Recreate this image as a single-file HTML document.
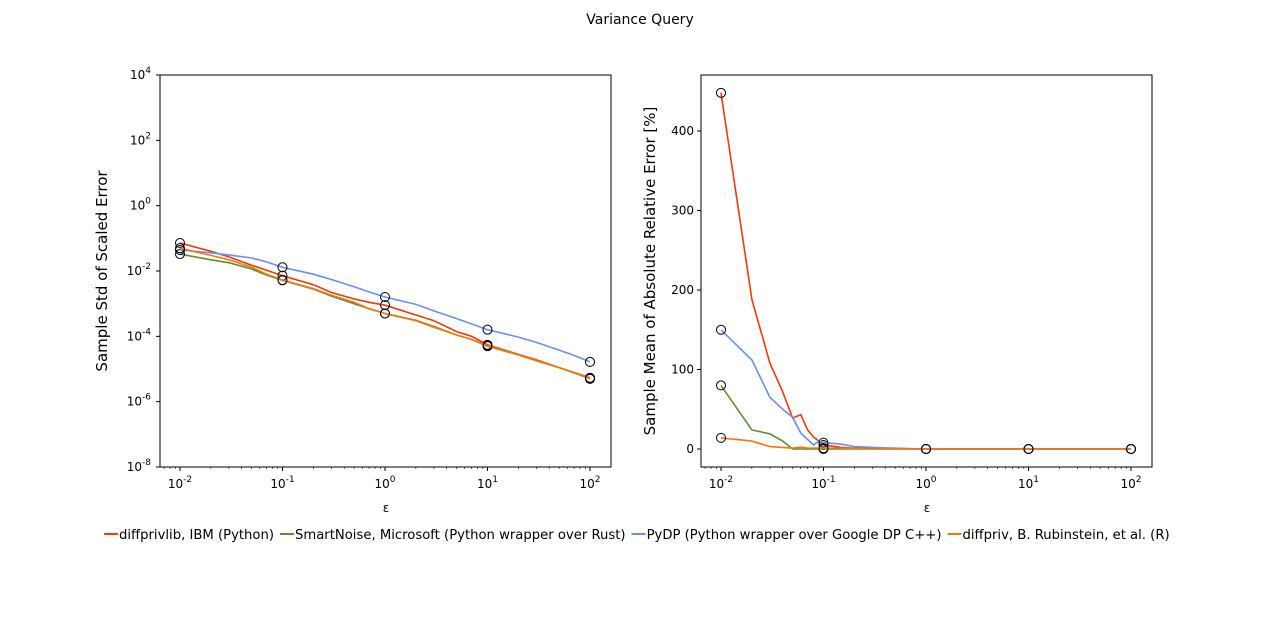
<!DOCTYPE html>
<html><head><meta charset="utf-8"><style>
body{margin:0;background:#fff;font-family:"DejaVu Sans","Liberation Sans",sans-serif;}
svg text{font-family:"DejaVu Sans","Liberation Sans",sans-serif;}
</style></head><body>
<svg id="fig" width="1280" height="623" xmlns="http://www.w3.org/2000/svg">
<rect width="1280" height="623" fill="#fff"/>
<text x="640" y="24" text-anchor="middle" font-size="14">Variance Query</text>
<g id="g"></g>
</svg>
<script>
const eps = [0.01,0.02,0.03,0.05,0.07,0.1,0.2,0.3,0.5,0.7,1,2,3,5,7,10,20,30,50,70,100];
const stdRed   = [0.072,0.04,0.027,0.015,0.0105,0.0072,0.0038,0.0022,0.0014,0.0011,0.0009,0.00045,0.0003,0.00014,0.0001,0.000055,0.000028,0.000019,0.000011,0.0000078,0.0000054];
const stdBlue  = [0.044,0.036,0.031,0.025,0.019,0.013,0.008,0.0055,0.0033,0.0023,0.0016,0.00095,0.0006,0.00035,0.00024,0.00016,0.000095,0.000065,0.000038,0.000026,0.0000165];
const stdGreen = [0.033,0.022,0.018,0.0115,0.0075,0.0052,0.0028,0.0017,0.001,0.0007,0.0005,0.00031,0.0002,0.00011,0.00008,0.00005,0.000027,0.000018,0.000011,0.0000076,0.000005];
const stdOrange= [0.05,0.03,0.022,0.013,0.008,0.0053,0.0029,0.0018,0.0011,0.0007,0.0005,0.0003,0.00019,0.00011,0.00008,0.000052,0.000027,0.000018,0.000011,0.0000076,0.0000052];
const errEps   = [0.01,0.02,0.03,0.04,0.05,0.06,0.07,0.08,0.09,0.1,0.15,0.2,0.3,0.5,1,10,100];
const errRed   = [448,188,108,72,39,43,24,15,10,5,2,1,1,0.5,0,0,0];
const errBlue  = [150,112,65,50,40,20,12,5,10,8,6,3,2,1,0,0,0];
const errGreen = [80,24,19,10,0,0,0,0,0,0,0,0,0,0,0,0,0];
const errOrange= [14,10,3,2,1,2.5,1,1,1,1,1,0.5,0,0,0,0,0];
const markEps = [0.01,0.1,1,10,100];
const names = ["diffprivlib, IBM (Python)","SmartNoise, Microsoft (Python wrapper over Rust)","PyDP (Python wrapper over Google DP C++)","diffpriv, B. Rubinstein, et al. (R)"];
const colors = ["#f03a0a","#5f8c3a","#6a8ff0","#ec7b0e"];
const yTicksL = [-8,-6,-4,-2,0,2,4];
const yTicksR = [0,100,200,300,400];
const xTicks = [-2,-1,0,1,2];

const NS="http://www.w3.org/2000/svg", G=document.getElementById('g');
function el(t,a,p){const e=document.createElementNS(NS,t);for(const k in a)e.setAttribute(k,a[k]);(p||G).appendChild(e);return e;}
function txt(x,y,s,a){const e=el('text',Object.assign({x:x,y:y,'font-size':12},a||{}));e.textContent=s;return e;}

function xl(L,v){return L+20+(Math.log10(v)+2)*102.5;}
const sxL=v=>xl(160,v), sxR=v=>xl(701,v);
const syL=v=>467-(Math.log10(v)+8)*(392/12);
const syR=v=>449-v*0.795;

function axes(L,name){
  const r=el('rect',{x:L,y:75,width:451,height:392,fill:'none',stroke:'#000','stroke-width':1});
  
  
  xTicks.forEach(t=>{const x=xl(L,Math.pow(10,t));
    el('line',{x1:x,x2:x,y1:467,y2:471,stroke:'#000'});
    for(let m=2;m<10;m++){const xm=xl(L,m*Math.pow(10,t-1));if(xm>L&&xm<L+451)el('line',{x1:xm,x2:xm,y1:467,y2:469,stroke:'#000','stroke-width':0.6});}
    const tx=el('text',{x:x,y:488,'font-size':12,'text-anchor':'middle'});
    
    
    tx.innerHTML='10<tspan dy="-6" font-size="9">'+t+'</tspan>';
  });
  for(let m=2;m<10;m++){const xm=xl(L,m*100);if(xm<L+451)el('line',{x1:xm,x2:xm,y1:467,y2:469,stroke:'#000','stroke-width':0.6});}
  const xt=txt(L+226,512,'ε',{'text-anchor':'middle'});
  
  
}
axes(160,'left');axes(701,'right');
yTicksL.forEach(t=>{const y=syL(Math.pow(10,t));
  el('line',{x1:156,x2:160,y1:y,y2:y,stroke:'#000'});
  const tx=el('text',{x:151,y:y+4,'font-size':12,'text-anchor':'end'});
  
  
  tx.innerHTML='10<tspan dy="-6" font-size="9">'+t+'</tspan>';
});
yTicksR.forEach(t=>{const y=syR(t);
  el('line',{x1:697,x2:701,y1:y,y2:y,stroke:'#000'});
  const tx=txt(694,y+4,String(t),{'text-anchor':'end'});
  
  
});
const yl=txt(0,0,'Sample Std of Scaled Error',{'font-size':15,'text-anchor':'middle',transform:'translate(107,271) rotate(-90)'});


const yr=txt(0,0,'Sample Mean of Absolute Relative Error [%]',{'font-size':15,'text-anchor':'middle',transform:'translate(655,271) rotate(-90)'});



function series(xs,ys,sx,sy,c,name){
  const d=xs.map((x,i)=>(i?'L':'M')+sx(x).toFixed(1)+','+sy(ys[i]).toFixed(1)).join('');
  const p=el('path',{d:d,fill:'none',stroke:c,'stroke-width':1.6});
  
  
  markEps.forEach(m=>{const i=xs.indexOf(m);if(i<0)return;
    const c2=el('circle',{cx:sx(m),cy:sy(ys[i]),r:4.5,fill:'none',stroke:'#000','stroke-width':1});
    
    
  });
}
const L=[stdRed,stdGreen,stdBlue,stdOrange], R=[errRed,errGreen,errBlue,errOrange];
const keys=['red','green','blue','orange'];
L.forEach((s,i)=>series(eps,s,sxL,syL,colors[i],'std-line-'+keys[i]));
R.forEach((s,i)=>series(errEps,s,sxR,syR,colors[i],'err-line-'+keys[i]));

// legend
let lx=104;
names.forEach((n,i)=>{
  const g=el('g',{});
  
  
  el('line',{x1:lx,x2:lx+14,y1:534,y2:534,stroke:colors[i],'stroke-width':2},g);
  const t=el('text',{x:lx+15,y:539,'font-size':13.2},g);t.textContent=n;
  lx+=15+t.getComputedTextLength()+6;
});
</script>
</body></html>
